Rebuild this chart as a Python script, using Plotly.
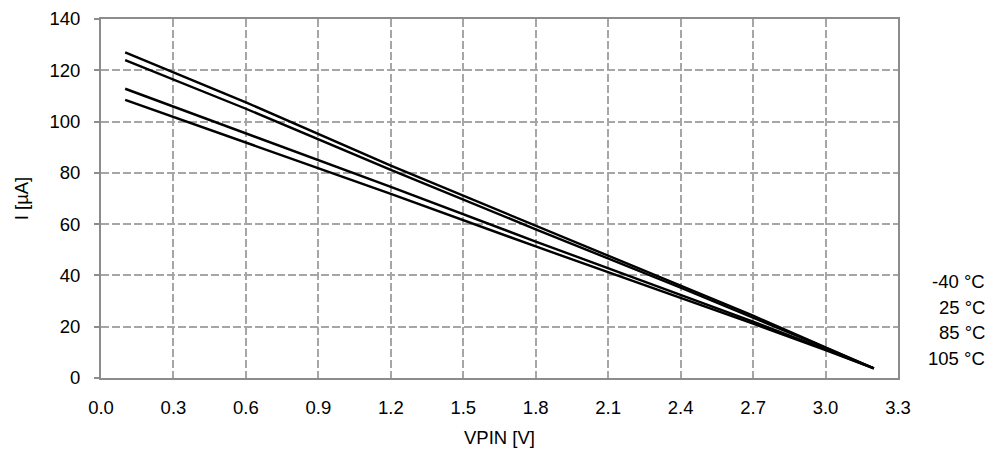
import plotly.graph_objects as go

# Data
vpin = [0.1, 0.6, 1.2, 1.8, 2.4, 2.7, 3.0, 3.2]
temps = ["-40 °C", "25 °C", "85 °C", "105 °C"]
i_m40 = [127.0, 107.5, 82.8, 59.3, 36.0, 24.3, 12.0, 3.8]
i_25 = [124.0, 105.0, 81.2, 58.0, 35.2, 23.6, 11.8, 3.8]
i_85 = [112.8, 95.5, 74.5, 53.2, 32.5, 22.0, 11.2, 3.8]
i_105 = [108.5, 91.8, 71.8, 51.3, 31.3, 21.2, 10.9, 3.8]
series = [i_m40, i_25, i_85, i_105]

x_ticks = [0.0, 0.3, 0.6, 0.9, 1.2, 1.5, 1.8, 2.1, 2.4, 2.7, 3.0, 3.3]
y_ticks = [0, 20, 40, 60, 80, 100, 120, 140]

FONT = "Liberation Sans, Arial, sans-serif"
GRID = "#a6a6a6"
AXIS = "#8c8c8c"

fig = go.Figure()
for name, vals in zip(temps, series):
    fig.add_trace(go.Scatter(x=vpin, y=vals, mode="lines", name=name,
                             line=dict(color="black", width=2.4),
                             showlegend=False, hoverinfo="skip"))

# Right-side labels (legend text without symbols)
label_y = [0.270, 0.197, 0.126, 0.055]
for name, yy in zip(temps, label_y):
    fig.add_annotation(text=name, xref="paper", yref="paper", x=1.112, y=yy,
                       xanchor="right", yanchor="middle", showarrow=False,
                       font=dict(family=FONT, size=18.5, color="black"))

fig.update_layout(
    width=995, height=466,
    margin=dict(l=101, r=97, t=19, b=88, autoexpand=False),
    paper_bgcolor="white", plot_bgcolor="white",
    font=dict(family=FONT, size=18.5, color="black"),
)
fig.update_xaxes(
    range=[0, 3.3], tickvals=x_ticks, automargin=False,
    ticktext=[f"{v:.1f}" for v in x_ticks],
    showgrid=True, gridcolor=GRID, gridwidth=2, griddash="8px,3px",
    showline=True, linecolor=AXIS, linewidth=2, mirror=True,
    ticks="", ticklabelstandoff=12, zeroline=False,
    title=dict(text="VPIN [V]", standoff=14, font=dict(size=18.5)),
)
fig.update_yaxes(
    range=[0, 140], tickvals=y_ticks, automargin=False,
    showgrid=True, gridcolor=GRID, gridwidth=2, griddash="8px,3px",
    showline=True, linecolor=AXIS, linewidth=2, mirror=True,
    ticks="outside", ticklen=5, tickcolor=AXIS, tickwidth=2,
    ticklabelstandoff=10, zeroline=False,
    title=dict(text="I [µA]", standoff=16, font=dict(size=18.5)),
)

fig.write_html("out.html",
               config={"displayModeBar": False, "staticPlot": True},
               post_script="document.body.style.margin='0';document.body.style.overflow='hidden';")
